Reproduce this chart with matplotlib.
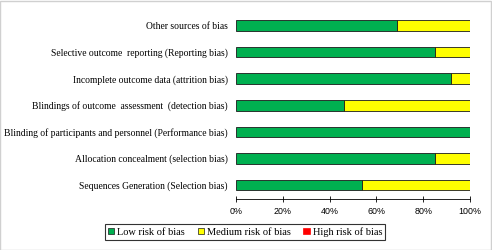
import matplotlib.pyplot as plt
from matplotlib.patches import Patch
import numpy as np

categories = [
    "Sequences Generation (Selection bias)",
    "Allocation concealment (selection bias)",
    "Blinding of participants and personnel (Performance bias)",
    "Blindings of outcome  assessment  (detection bias)",
    "Incomplete outcome data (attrition bias)",
    "Selective outcome  reporting (Reporting bias)",
    "Other sources of bias",
]
low = [54, 85, 100, 46, 92, 85, 69]
medium = [46, 15, 0, 54, 8, 15, 31]
high = [0, 0, 0, 0, 0, 0, 0]
xticks = [0, 20, 40, 60, 80, 100]

green, yellow, red = "#00B050", "#FFFF00", "#FF0000"

fig = plt.figure(figsize=(4.92, 2.5), dpi=100)
ax = fig.add_axes([236 / 492, 1 - 199 / 250, 234 / 492, 187 / 250])

y = np.arange(len(categories))
low = np.array(low)
medium = np.array(medium)
high = np.array(high)
ax.barh(y, low, height=0.4, color=green, edgecolor="#1a1a1a", linewidth=0.6)
ax.barh(y, medium, left=low, height=0.4, color=yellow, edgecolor="#1a1a1a", linewidth=0.6)
ax.barh(y, high, left=low + medium, height=0.4, color=red, edgecolor="#1a1a1a", linewidth=0)

ax.set_xlim(0, 100)
ax.set_ylim(-0.52, 6.5)
ax.set_yticks(y)
ax.set_yticklabels(categories, family="Liberation Serif", fontsize=6.9)
ax.tick_params(axis="y", length=0, pad=6)
ax.set_xticks(xticks)
ax.set_xticklabels([f"{t}%" for t in xticks], family="Liberation Sans", fontsize=6.4)
ax.tick_params(axis="x", direction="inout", length=5, width=0.6, pad=3)
for s in ["top", "right", "left"]:
    ax.spines[s].set_visible(False)
ax.spines["bottom"].set_linewidth(0.6)

handles = [
    Patch(facecolor=green, edgecolor="#1a1a1a", linewidth=0.5, label="Low risk of bias"),
    Patch(facecolor=yellow, edgecolor="#1a1a1a", linewidth=0.5, label="Medium risk of bias"),
    Patch(facecolor=red, edgecolor=red, linewidth=0.5, label="High risk of bias"),
]
leg = fig.legend(handles=handles, loc="center", bbox_to_anchor=(245 / 492, 1 - 232 / 250),
                 ncol=3, prop={"family": "Liberation Serif", "size": 7.5},
                 handlelength=0.6, handleheight=0.6, handletextpad=0.3, columnspacing=1.2,
                 frameon=True, fancybox=False, borderpad=0.3)
leg.get_frame().set_edgecolor("black")
leg.get_frame().set_linewidth(0.8)

fig.patches.append(plt.Rectangle((0.001, 0.002), 0.997, 0.995, transform=fig.transFigure,
                                 fill=False, edgecolor="#d0d0d0", linewidth=1))

plt.savefig("out.png", dpi=100)
